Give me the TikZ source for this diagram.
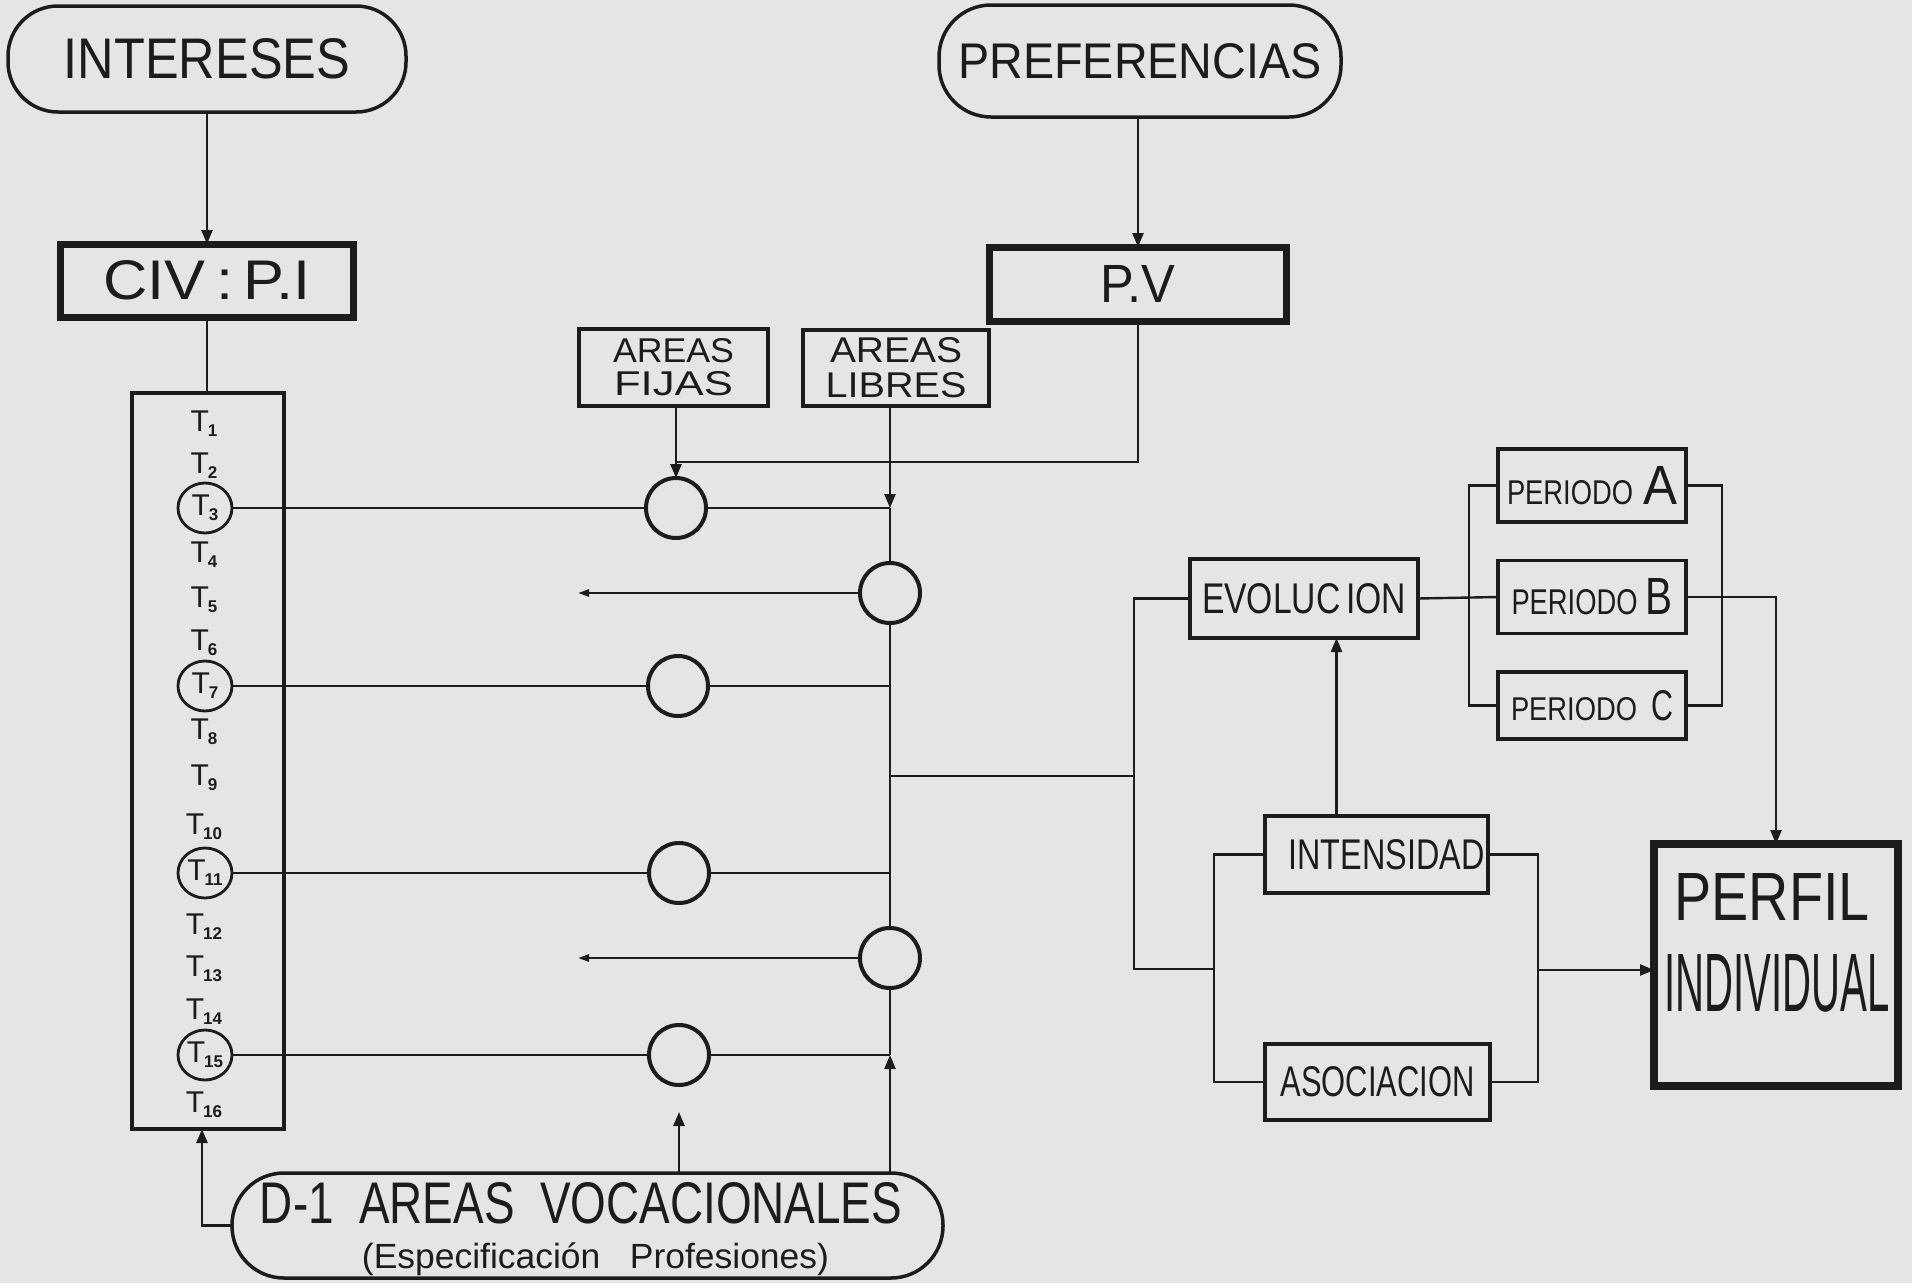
\documentclass[tikz,border=0pt]{standalone}
\usepackage{fontspec}
\setmainfont{Liberation Sans}
\usepackage{graphicx}
\usetikzlibrary{arrows.meta,calc,shapes.geometric}
\definecolor{bg}{RGB}{229,229,229}
\definecolor{ink}{RGB}{28,28,28}
\newcommand{\fx}[3]{\resizebox{#1pt}{#2pt}{#3}}
\newcommand{\Tl}[1]{{\fontsize{30}{30}\selectfont T\hspace{-1pt}\raisebox{-5pt}{\fontsize{17}{17}\selectfont\bfseries #1}}}
\begin{document}
\begin{tikzpicture}[x=1pt,y=-1pt,
  every node/.style={inner sep=0pt, outer sep=0pt, text=ink},
  ln/.style={draw=ink, line width=2.4pt},
  arr/.style={ln, -{Triangle[length=14pt,width=11pt]}},
  sarr/.style={ln, -{Triangle[length=11pt,width=7pt]}},
  pill/.style={draw=ink, line width=3.5pt, rounded corners=#1, rectangle},
  box/.style={draw=ink, line width=3.5pt, rectangle},
  thickbox/.style={draw=ink, line width=7pt, rectangle},
  ring/.style={draw=ink, line width=4pt, circle, minimum size=60pt},
  tring/.style={draw=ink, line width=2.8pt, ellipse, minimum width=54pt, minimum height=50pt}]
\fill[bg] (0,0) rectangle (1912,1283);
\useasboundingbox (0,0) rectangle (1912,1283);

% top sources
\node[pill=50pt, minimum width=398pt, minimum height=106pt] (intr) at (207,59) {\fx{286}{40}{INTERESES}};
\node[pill=52pt, minimum width=402pt, minimum height=112pt] (pref) at (1140,61) {\fx{363}{35}{PREFERENCIAS}};
\node[thickbox, minimum width=293pt, minimum height=73pt] (civ) at (207,280.5) {\fx{207}{39}{CIV\,:\,P.I}\hspace{34pt}};
\node[thickbox, minimum width=297pt, minimum height=74pt] (pv) at (1138,284) {\fx{75}{37}{P.V}};

% T column
\node[draw=ink, line width=4pt, minimum width=152pt, minimum height=736pt] (tcol) at (208,761) {};
\foreach \n/\y in {1/424,2/466,4/555,5/600,6/643,8/732,9/778,10/827,12/927,13/969,14/1012,16/1105}
  \node (t\n) at (204,\y) {\Tl{\n}};
\node[tring] (t3) at (205,508) {\Tl{3}};
\node[tring] (t7) at (205,686) {\Tl{7}};
\node[tring] (t11) at (205,873) {\Tl{11}};
\node[tring] (t15) at (205,1055) {\Tl{15}};

% areas boxes
\node[box, minimum width=189pt, minimum height=77pt, align=center, font=\fontsize{34}{33}\selectfont] (af) at (673.5,367.5) {\fx{121}{24}{AREAS}\\\fx{119}{24}{FIJAS}};
\node[box, minimum width=186pt, minimum height=76pt, align=center, font=\fontsize{34}{35}\selectfont] (al) at (896,368) {\fx{132}{25}{AREAS}\\\fx{141}{25}{LIBRES}};

% circles
\node[ring] (c1) at (676,508) {};
\node[ring] (c2) at (678,686) {};
\node[ring] (c3) at (679,873) {};
\node[ring] (c4) at (679,1055) {};
\node[ring] (r1) at (890,593) {};
\node[ring] (r2) at (890,958) {};

% bottom source
\node[pill=52pt, minimum width=711pt, minimum height=105pt] (d1) at (587.5,1225.5) {};
\node (d1a) at (581,1203.5) {\fx{642}{41}{D-1\ \ AREAS\ \ VOCACIONALES}};
\node (d1b) at (595.5,1259) {\resizebox*{467pt}{33pt}{(Especificación\ \ \ Profesiones)}};

% right part
\node[box, minimum width=228pt, minimum height=79pt] (evol) at (1304,598.5) {\fx{204}{30}{EVOLUC\,ION}};
\node[box, minimum width=188pt, minimum height=73pt] (pa) at (1592,485.5) {\fx{126}{24}{PERIODO}\hspace{10pt}\fx{34}{38}{A}};
\node[box, minimum width=188pt, minimum height=73pt] (pb) at (1592,597) {\fx{126}{25}{PERIODO}\hspace{8pt}\fx{27}{36}{B}};
\node[box, minimum width=188pt, minimum height=67pt] (pc) at (1592,705.5) {\fx{126}{23}{PERIODO}\hspace{14pt}\fx{22}{30}{C}};
\node[box, minimum width=223pt, minimum height=77pt] (intn) at (1376.5,854.5) {\hspace{20pt}\fx{196}{30}{INTENSIDAD}};
\node[box, minimum width=225pt, minimum height=76pt] (aso) at (1377.5,1082) {\fx{194}{30}{ASOCIACION}\hspace{9pt}};
\node[draw=ink, line width=8pt, minimum width=244pt, minimum height=242pt] (perfil) at (1776,965) {};
\node (perfil1) at (1772,897) {\fx{195}{47}{PERFIL}};
\node (perfil2) at (1777,983) {\fx{225}{57}{INDIVIDUAL}};

% coordinates
\coordinate (jaf) at (676,462);
\coordinate (b3) at (890,508);
\coordinate (b7) at (890,686);
\coordinate (bm) at (890,776);
\coordinate (b11) at (890,873);
\coordinate (b15) at (890,1055);
\coordinate (o1) at (578,593);
\coordinate (o2) at (578,958);
\coordinate (a4) at (679,1112);
\coordinate (ktop) at (1134,598.5);
\coordinate (kbot) at (1134,969);
\coordinate (qL) at (1214,969);
\coordinate (qR) at (1538,970);
\coordinate (pLx) at (1469,597);
\coordinate (pRx) at (1722,597);
\coordinate (tin) at (202,1129);
\coordinate (iu) at ($(intn.north)+(-40,0)$);

% connectors: top
\draw[arr] (intr.south) -- (intr.south |- civ.north);
\draw[ln] (civ.south) -- (civ.south |- tcol.north);
\draw[arr] (pref.south -| pv.north) -- (pv.north);
\draw[ln] (pv.south) |- (jaf);
\draw[arr] (af.south -| c1.north) -- (c1.north);

% bus
\draw[arr] (al.south -| b3) -- (b3);
\draw[ln] (b3) -- (r1.north);
\draw[ln] (r1.south) -- (r2.north);
\draw[arr] (d1.north -| b15) -- (b15);
\draw[ln] (b15) -- (r2.south);

% T lines
\draw[ln] (t3.east) -- (c1.west);
\draw[ln] (c1.east) -- (b3);
\draw[ln] (t7.east) -- (c2.west);
\draw[ln] (c2.east) -- (b7);
\draw[ln] (t11.east) -- (c3.west);
\draw[ln] (c3.east) -- (b11);
\draw[ln] (t15.east) -- (c4.west);
\draw[ln] (c4.east) -- (b15);

% outputs of right circles
\draw[sarr] (r1.west) -- (o1);
\draw[sarr] (r2.west) -- (o2);

% from D-1
\draw[arr] (d1.north -| a4) -- (a4);
\draw[arr] (d1.west) -| (tin);

% branch to the right part
\draw[ln] (bm) -- (bm -| ktop);
\draw[ln] (evol.west) -- (ktop) -- (kbot) -- (qL);
\draw[ln] (intn.west) -| (qL) |- (aso.west);
\draw[ln] (intn.east) -| (qR) |- (aso.east);
\draw[arr] (qR) -- (qR -| perfil.west);
\draw[arr] (iu) -- (iu |- evol.south);

% periods
\draw[ln] (evol.east) -- (pb.west);
\draw[ln] (pa.west) -| (pLx) |- (pc.west);
\draw[ln] (pa.east) -| (pRx) |- (pc.east);
\draw[arr] (pb.east) -| (perfil.north);
\end{tikzpicture}
\end{document}
